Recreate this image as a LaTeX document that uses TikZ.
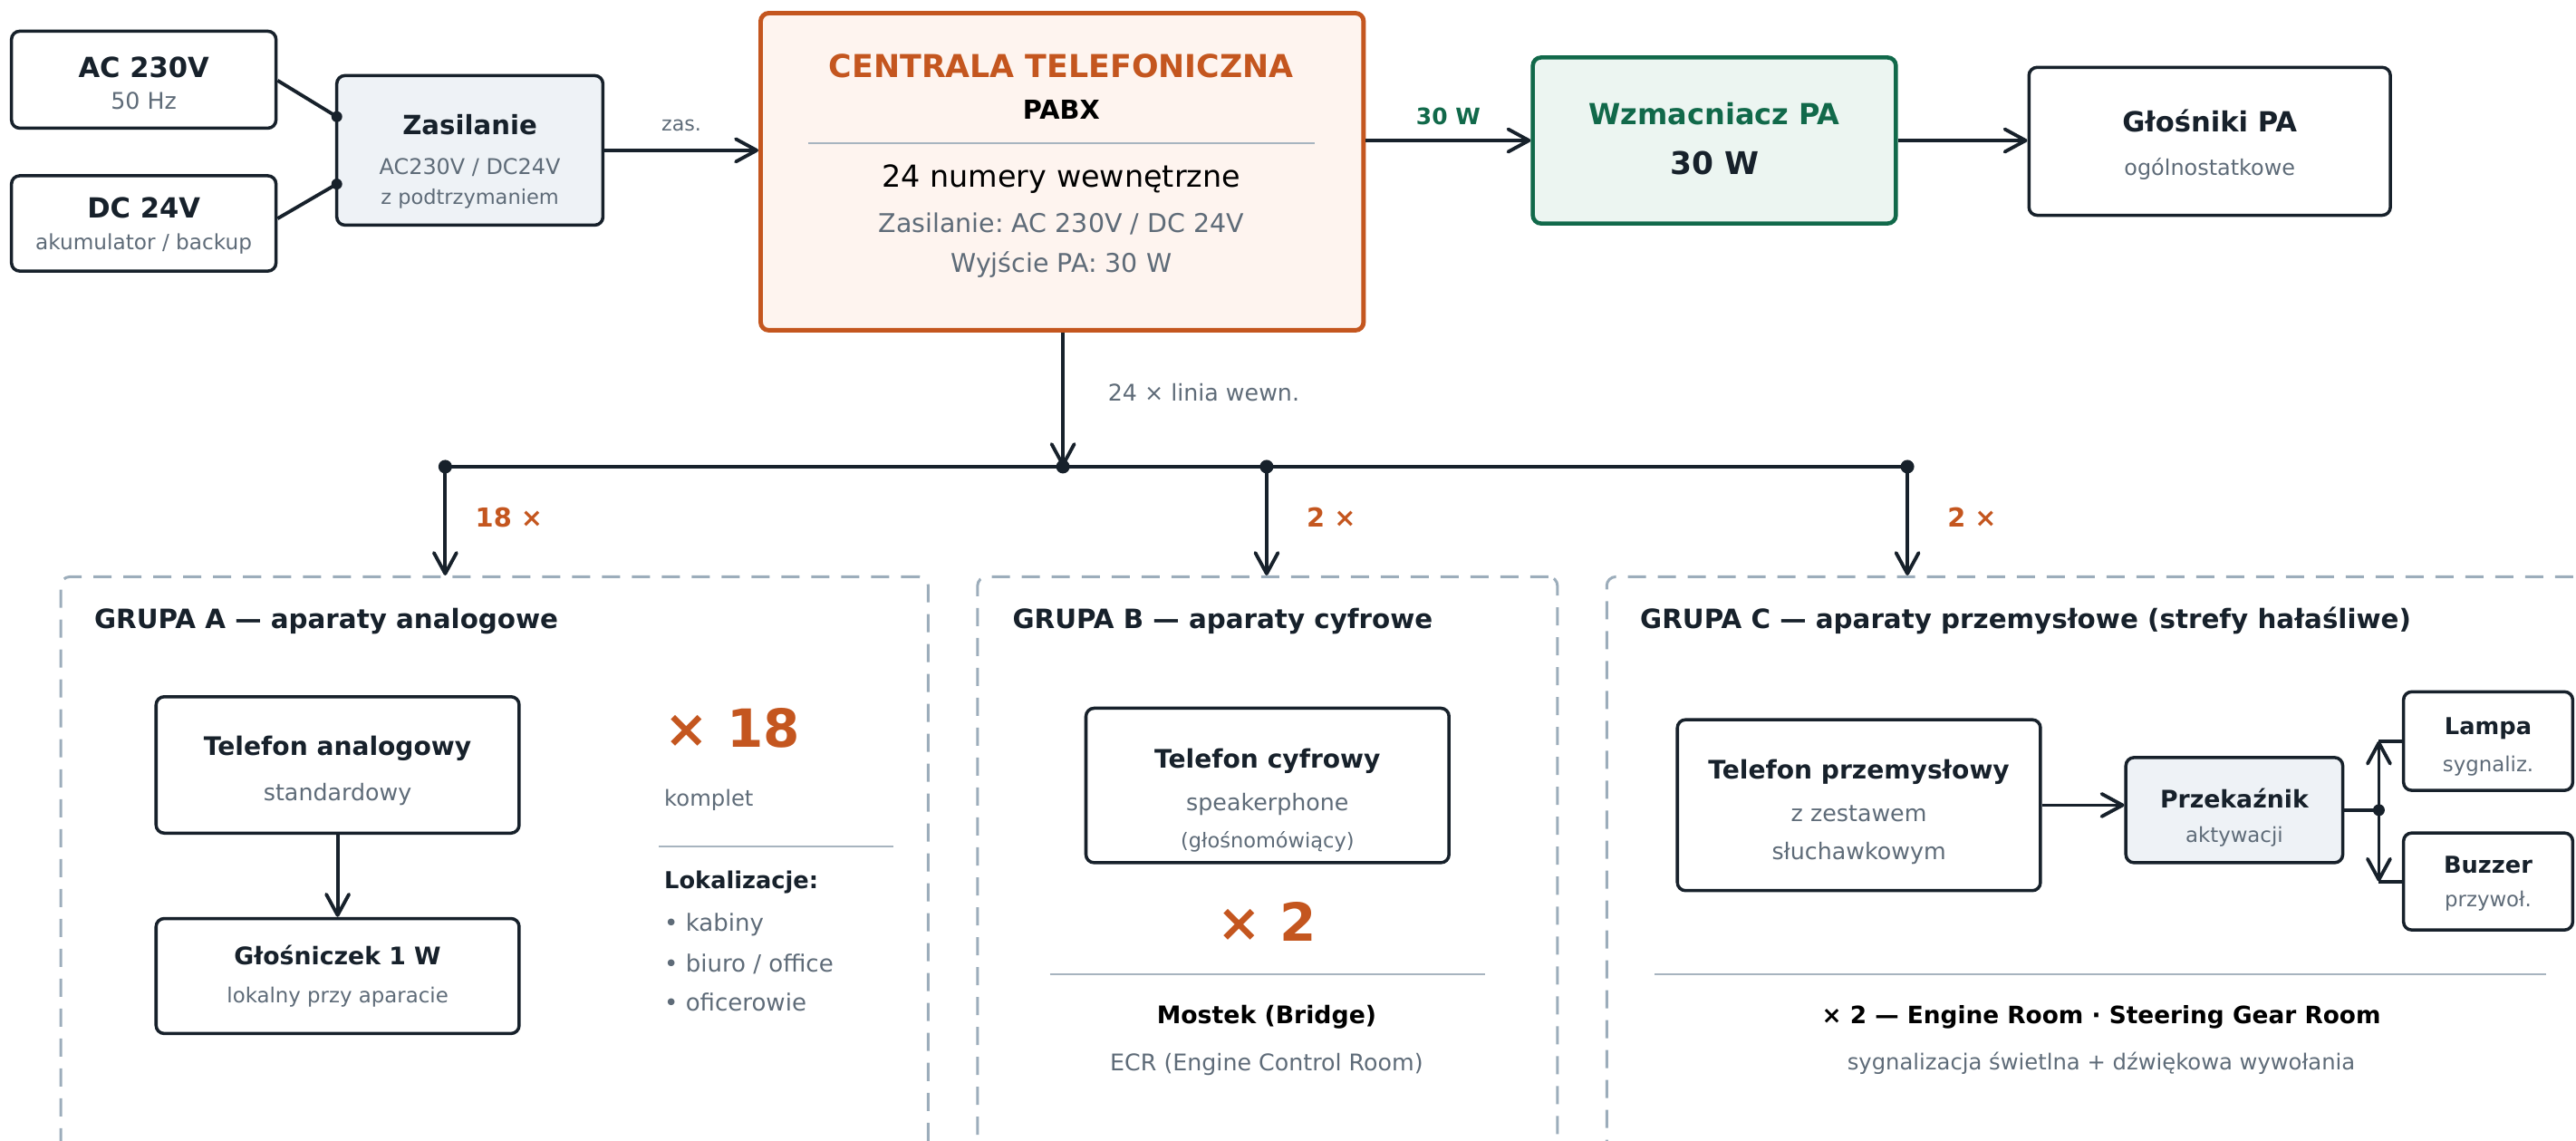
\documentclass[tikz,border=0pt]{standalone}
\usepackage{fontspec}
\setmainfont{DejaVu Sans}
\usepackage{tikz}
\usetikzlibrary{arrows.meta, positioning, calc}
\frenchspacing

\definecolor{ink}{HTML}{17212B}
\definecolor{muted}{HTML}{5E6B78}
\definecolor{rust}{HTML}{C4561F}
\definecolor{pine}{HTML}{11694A}
\definecolor{peach}{HTML}{FEF4EF}
\definecolor{mint}{HTML}{ECF5F1}
\definecolor{mist}{HTML}{EEF2F6}
\definecolor{dashgray}{HTML}{9CADBB}
\definecolor{rulegray}{HTML}{A7B4BF}

\newdimen\pu \pu=0.018131cm
\newcommand\btitle[2]{{\fontsize{#1}{#1}\selectfont\bfseries #2}}
\newcommand\bnote[2]{{\color{muted}\fontsize{#1}{#1}\selectfont #2}}
% extra room above the first line, pushes the text block down
\newcommand\sink[2]{\raisebox{0pt}[\dimexpr\height+#1\relax]{#2}}

\tikzset{
    box/.style={draw=ink, line width=1pt, rounded corners=0.9mm, fill=white,
        inner sep=0pt, align=center, text=ink, font=\fontsize{8}{10}\selectfont},
    wh/.style 2 args={minimum width=#1*\pu, minimum height=#2*\pu},
    link/.style={draw=ink, line width=1.1pt},
    grp/.style={draw=dashgray, line width=0.85pt, dash pattern=on 2mm off 1.3mm,
        rounded corners=1mm, inner sep=0pt},
    lbl/.style={inner sep=0pt, anchor=west},
    rule/.style={draw=rulegray, line width=0.7pt},
    note/.style={inner sep=0pt, text=muted},
    head/.style={inner sep=0pt, text=ink, font=\fontsize{8.35}{10}\selectfont\bfseries},
    count/.style={inner sep=0pt, text=rust, font=\fontsize{16.5}{18}\selectfont\bfseries}
}

\begin{document}
\begin{tikzpicture}[x=0.018131cm, y=-0.018131cm,
    >={Straight Barb[length=2.3mm,width=2.5mm,round]}]
        \useasboundingbox (0,0) rectangle (1568,694);
        \clip (0,0) rectangle (1568,694);

        % Nodes
        \node[box, wh={161}{59}] (ac) at (87.5,48.5) {\sink{2.1pt}{\btitle{8.7}{AC 230V}}\\\bnote{7.2}{50 Hz}};
        \node[box, wh={161}{58}, below=0.49cm of ac] (dc) {\sink{1.5pt}{\btitle{8.7}{DC 24V}}\\\bnote{6.6}{akumulator / backup}};
        \node[box, fill=mist, wh={162}{91}] (psu) at (286,91.5)
            {\sink{7.2pt}{\btitle{8.3}{Zasilanie}}\\[2.3pt]\bnote{6.8}{AC230V / DC24V}\\[-0.4pt]\bnote{6.4}{z podtrzymaniem}};

        \node[box, draw=rust, fill=peach, line width=1.4pt, wh={367}{193}] (pabx) at (646.5,104.5) {};
        \node[inner sep=0pt, text=rust, font=\fontsize{9.9}{10}\selectfont\bfseries] (pabxA) at (646,40) {CENTRALA TELEFONICZNA};
        \node[inner sep=0pt, font=\fontsize{8.2}{10}\selectfont\bfseries] (pabxB) at (646,67) {PABX};
        \node[inner sep=0pt, font=\fontsize{9.5}{10}\selectfont] (pabxC) at (646,109) {24 numery wewnętrzne};
        \node[note, font=\fontsize{8.1}{10}\selectfont] (pabxD) at (646,136) {Zasilanie: AC 230V / DC 24V};
        \node[note, font=\fontsize{8.1}{10}\selectfont] (pabxE) at (646,161) {Wyjście PA: 30 W};
        \draw[rule] (492,87) -- (800,87);

        \node[box, draw=pine, fill=mint, line width=1.3pt, wh={221}{101}] (amp) at (1043.5,85.5)
            {\sink{-1pt}{\textcolor{pine}{\btitle{9.1}{Wzmacniacz PA}}}\\[5.7pt]\btitle{9.8}{30 W}};
        \node[box, wh={220}{90}] (spk) at (1345,86)
            {\sink{2.1pt}{\btitle{8.7}{Głośniki PA}}\\[3.6pt]\bnote{6.8}{ogólnostatkowe}};

        % groups
        \node[grp, wh={528}{360}] (grpA) at (301,531) {};
        \node[grp, wh={353}{360}] (grpB) at (771.5,531) {};
        \node[grp, wh={612}{360}] (grpC) at (1284,531) {};
        \node[head, lbl] (hdA) at (57,378) {GRUPA A — aparaty analogowe};
        \node[head, lbl] (hdB) at (616,378) {GRUPA B — aparaty cyfrowe};
        \node[head, lbl] (hdC) at (998,378) {GRUPA C — aparaty przemysłowe (strefy hałaśliwe)};

        % grupa A
        \node[box, wh={221}{83}] (telA) at (205.5,465.5)
            {\sink{3.6pt}{\btitle{8}{Telefon analogowy}}\\[4.4pt]\bnote{7.2}{standardowy}};
        \node[box, wh={221}{70}, below=0.907cm of telA] (spkA)
            {\btitle{7.6}{Głośniczek 1 W}\\[1.9pt]\bnote{6.5}{lokalny przy aparacie}};
        \node[count, lbl] (cntA) at (404,443) {× 18};
        \node[note, lbl, font=\fontsize{6.9}{8}\selectfont] (kompl) at (404,487) {komplet};
        \draw[rule] (401,515) -- (544,515);
        \node[lbl, text=ink, font=\fontsize{7.3}{8}\selectfont\bfseries] (lok) at (404,537) {Lokalizacje:};
        \node[note, lbl, font=\fontsize{7.4}{8}\selectfont] (lok1) at (404,563) {• kabiny};
        \node[note, lbl, font=\fontsize{7.4}{8}\selectfont] (lok2) at (404,587) {• biuro / office};
        \node[note, lbl, font=\fontsize{7.4}{8}\selectfont] (lok3) at (404,610) {• oficerowie};

        % grupa B
        \node[box, wh={221}{94}] (telB) at (771.5,478)
            {\sink{9.3pt}{\btitle{8}{Telefon cyfrowy}}\\[3.4pt]\bnote{7.2}{speakerphone}\\[1.6pt]\bnote{6.4}{(głośnomówiący)}};
        \node[count] (cntB) at (771,561) {× 2};
        \draw[rule] (639,593) -- (904,593);
        \node[inner sep=0pt, font=\fontsize{7.6}{8}\selectfont\bfseries] (mostek) at (771,619) {Mostek (Bridge)};
        \node[note, font=\fontsize{7.2}{8}\selectfont] (ecr) at (771,648) {ECR (Engine Control Room)};

        % grupa C
        \node[box, wh={221}{104}] (telC) at (1131.5,490)
            {\sink{4.1pt}{\btitle{8}{Telefon przemysłowy}}\\[3.4pt]\bnote{7.2}{z zestawem}\\[1.8pt]\bnote{7.2}{słuchawkowym}};
        \node[box, fill=mist, wh={132}{64}] (relay) at (1360,493)
            {\sink{4.6pt}{\btitle{7.6}{Przekaźnik}}\\[0.8pt]\bnote{6.5}{aktywacji}};
        \node[box, wh={103}{60}] (lamp) at (1514.5,451)
            {\sink{3.6pt}{\btitle{7.3}{Lampa}}\\[1.5pt]\bnote{6.5}{sygnaliz.}};
        \node[box, wh={103}{59}, below=0.435cm of lamp] (buzz)
            {\sink{1.5pt}{\btitle{7.3}{Buzzer}}\\[0.5pt]\bnote{6.5}{przywoł.}};
        \draw[rule] (1007,593) -- (1550,593);
        \node[inner sep=0pt, font=\fontsize{7.5}{8}\selectfont\bfseries] (rooms) at (1279,619) {× 2 — Engine Room · Steering Gear Room};
        \node[note, font=\fontsize{6.9}{8}\selectfont] (sygn) at (1279,647) {sygnalizacja świetlna + dźwiękowa wywołania};

        % junctions
        \coordinate (psuA) at (205,71);
        \coordinate (psuB) at (205,112);
        \coordinate (bus) at (647,284);
        \coordinate (busA) at (271,284);
        \coordinate (busB) at (771,284);
        \coordinate (busC) at (1161,284);
        \coordinate (fork) at (1448,493);

        % connectors
        \draw[link] (ac.east |- 0,49) -- (psuA);
        \draw[link] (dc.east |- 0,133) -- (psuB);
        \draw[link, ->] (psu.east) -- (psu.east -| pabx.west)
            node[midway, yshift=0.27cm, text=muted, font=\fontsize{6.3}{7}\selectfont] (zas) {zas.};
        \draw[link, ->] (amp.west -| pabx.east) -- (amp.west)
            node[midway, yshift=0.27cm, text=pine, font=\fontsize{7.1}{8}\selectfont\bfseries] (w30) {30 W};
        \draw[link, ->] (amp.east) -- (amp.east -| spk.west);

        \draw[link, ->] (pabx.south -| bus) -- (bus);
        \node[note, lbl, font=\fontsize{7.2}{8}\selectfont] (lines) at (674,239) {24 × linia wewn.};
        \draw[link, line width=1.25pt] (busA) -- (busC);
        \draw[link, ->] (busA) -- (busA |- grpA.north);
        \draw[link, ->] (busB) -- (busB |- grpB.north);
        \draw[link, ->] (busC) -- (busC |- grpC.north);
        \node[lbl, text=rust, font=\fontsize{8.2}{9}\selectfont\bfseries] (nA) at (289,315) {18 ×};
        \node[lbl, text=rust, font=\fontsize{8.2}{9}\selectfont\bfseries] (nB) at (795,315) {2 ×};
        \node[lbl, text=rust, font=\fontsize{8.2}{9}\selectfont\bfseries] (nC) at (1185,315) {2 ×};

        \draw[link, ->] (telA) -- (spkA);
        \draw[link, ->] (telC.east) -- (telC.east -| relay.west);
        \draw[link] (relay.east |- fork) -- (fork);
        \draw[link, ->] (fork) -- (fork |- lamp.west);
        \draw[link, ->] (fork) -- (fork |- buzz.west);
        \draw[link] (fork |- lamp.west) -- (lamp.west);
        \draw[link] (fork |- buzz.west) -- (buzz.west);

        % dots
        \fill[ink] (psuA) circle (0.6mm) (psuB) circle (0.6mm);
        \fill[ink] (bus) circle (0.75mm) (busA) circle (0.75mm) (busB) circle (0.75mm) (busC) circle (0.75mm);
        \fill[ink] (fork) circle (0.65mm);
    \end{tikzpicture}
\end{document}
